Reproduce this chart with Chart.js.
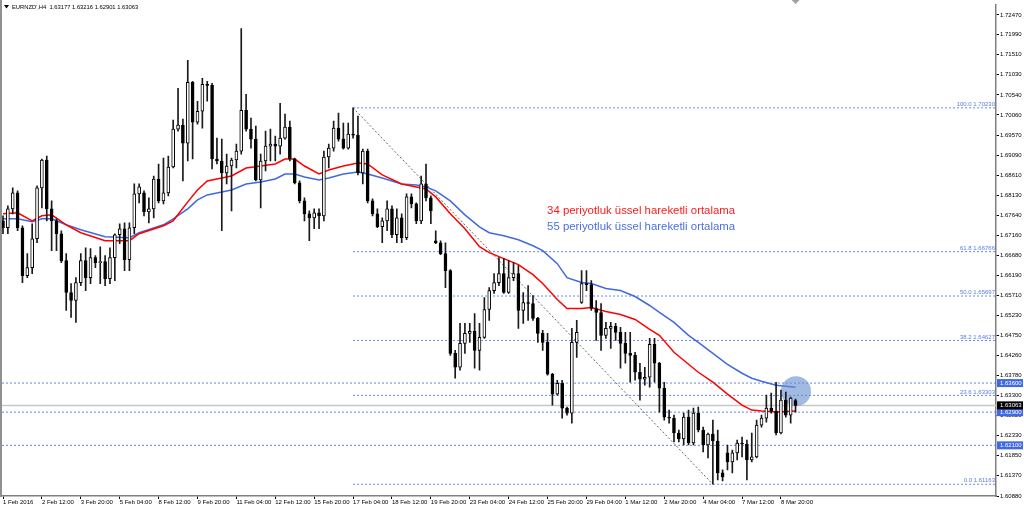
<!DOCTYPE html>
<html><head><meta charset="utf-8">
<script src="https://cdn.jsdelivr.net/npm/chart.js@4.4.0/dist/chart.umd.min.js"></script>
<style>html,body{margin:0;padding:0;background:#fff;overflow:hidden}</style>
</head><body>
<canvas id="c" width="1024" height="510"></canvas>
<script>
// ---- data ----
const symbolTitle = "EURNZD',H4  1.63177 1.63216 1.62901 1.63063";
const dateLabels = ['1 Feb 2016','2 Feb 12:00','3 Feb 20:00','5 Feb 04:00','8 Feb 12:00','9 Feb 20:00','11 Feb 04:00','12 Feb 12:00','15 Feb 20:00','17 Feb 04:00','18 Feb 12:00','19 Feb 20:00','23 Feb 04:00','24 Feb 12:00','25 Feb 20:00','29 Feb 04:00','1 Mar 12:00','2 Mar 20:00','4 Mar 04:00','7 Mar 12:00','8 Mar 20:00'];
const yTickLabels = ['1.72470','1.71990','1.71510','1.71030','1.70540','1.70060','1.69570','1.69090','1.68610','1.68130','1.67640','1.67160','1.66680','1.66190','1.65710','1.65230','1.64750','1.64260','1.63780','1.63300','1.62820','1.62330','1.61850','1.61370','1.60880'];

const openP = [1.67509,1.67341,1.67797,1.68181,1.67341,1.66189,1.66381,1.67077,1.68301,1.68973,
1.67797,1.67509,1.67197,1.66549,1.65781,1.65589,1.66021,1.66549,1.66141,1.66621,
1.66501,1.66525,1.66117,1.66621,1.67173,1.67317,1.66573,1.67341,1.68157,1.68181,
1.67725,1.67797,1.68517,1.67989,1.68181,1.68805,1.69717,1.69813,1.69381,1.70845,
1.69885,1.70149,1.70797,1.70773,1.68997,1.68949,1.68661,1.68829,1.68973,1.69189,
1.70173,1.69717,1.69477,1.68493,1.68949,1.69309,1.69357,1.69309,1.69501,1.69765,
1.68997,1.68421,1.67989,1.67677,1.67581,1.67701,1.67629,1.69045,1.69261,1.69741,
1.69477,1.69261,1.69597,1.69573,1.68661,1.69189,1.67989,1.67677,1.67365,1.67509,
1.67797,1.67173,1.67581,1.67101,1.68085,1.67917,1.67509,1.68397,1.68061,1.67029,
1.66981,1.66717,1.66309,1.64317,1.63981,1.64557,1.64797,1.64845,1.64389,1.64701,
1.65373,1.65829,1.66021,1.66237,1.65781,1.66141,1.66237,1.65349,1.65541,1.65517,
1.65157,1.64797,1.64581,1.63813,1.63333,1.63597,1.62997,1.62877,1.64581,1.65541,
1.65997,1.65973,1.65397,1.65301,1.64749,1.64917,1.64965,1.64821,1.64557,1.64317,
1.64269,1.63861,1.63693,1.63741,1.64533,1.64077,1.63477,1.62781,1.62757,1.62397,
1.62253,1.62781,1.62157,1.62877,1.62469,1.62109,1.62373,1.62205,1.61437,1.61917,
1.61701,1.61917,1.62157,1.62133,1.61749,1.61821,1.62589,1.62757,1.62997,1.62925,
1.62397,1.63189,1.62829,1.63177];
const highP = [1.67629,1.67869,1.68301,1.68229,1.67389,1.66717,1.67437,1.68349,1.68997,1.69069,
1.67989,1.67557,1.67269,1.66717,1.65997,1.66141,1.66717,1.66861,1.66837,1.66669,
1.66885,1.66669,1.66861,1.67197,1.67437,1.67461,1.67461,1.68397,1.68397,1.68229,
1.68061,1.68589,1.68877,1.69021,1.69069,1.69933,1.70701,1.69957,1.71373,1.70869,
1.70389,1.70941,1.70869,1.70821,1.69501,1.69477,1.69117,1.69021,1.69357,1.72141,
1.70557,1.69981,1.69789,1.69117,1.69669,1.69717,1.69549,1.70341,1.70077,1.69909,
1.69021,1.68469,1.68061,1.67749,1.67797,1.67797,1.69189,1.69357,1.69909,1.70101,
1.69861,1.69861,1.70230,1.70029,1.69237,1.69237,1.68037,1.67797,1.67581,1.67989,
1.67869,1.67797,1.67677,1.68157,1.68157,1.67941,1.68589,1.68877,1.68109,1.67269,
1.67029,1.66981,1.66333,1.64389,1.65037,1.65037,1.65037,1.65277,1.65037,1.65661,
1.65901,1.66237,1.66621,1.66597,1.66549,1.66501,1.66429,1.65781,1.65949,1.65709,
1.65181,1.64869,1.64797,1.63837,1.63669,1.63669,1.63021,1.64917,1.65109,1.66309,
1.66309,1.66069,1.65589,1.65517,1.65061,1.65061,1.65037,1.64941,1.64821,1.64821,
1.64341,1.64077,1.63981,1.64677,1.64677,1.64101,1.63621,1.62949,1.62829,1.62469,
1.62877,1.62949,1.62997,1.63021,1.62541,1.62397,1.62709,1.62469,1.61509,1.62109,
1.61989,1.62229,1.62301,1.62229,1.62397,1.62709,1.62829,1.63309,1.63357,1.63621,
1.63429,1.63381,1.63261,1.63216];
const lowP = [1.67197,1.67197,1.67677,1.67269,1.66021,1.66141,1.66237,1.66981,1.67821,1.67509,
1.66789,1.66789,1.66501,1.65349,1.65181,1.65061,1.65949,1.65829,1.65997,1.66381,
1.65997,1.65949,1.65997,1.66069,1.66957,1.66309,1.66309,1.67197,1.67941,1.67629,
1.67461,1.67581,1.67941,1.67917,1.68109,1.68781,1.69669,1.68469,1.68949,1.68997,
1.69837,1.69741,1.70389,1.68757,1.68877,1.67269,1.68397,1.67749,1.68781,1.69117,
1.69669,1.69261,1.68469,1.67821,1.68709,1.68949,1.68949,1.69117,1.69477,1.68949,
1.68397,1.67941,1.67509,1.67029,1.67317,1.67317,1.67509,1.68781,1.69189,1.69429,
1.69237,1.69237,1.69501,1.68613,1.68397,1.67941,1.67629,1.67341,1.66981,1.67269,
1.67101,1.66981,1.66981,1.67053,1.67821,1.67437,1.67437,1.67989,1.67437,1.66957,
1.66693,1.65901,1.64269,1.63717,1.63909,1.64317,1.64581,1.63957,1.63909,1.64677,
1.65109,1.65757,1.65949,1.65757,1.65757,1.66069,1.64917,1.65037,1.65109,1.65109,
1.64581,1.64389,1.63789,1.63069,1.63309,1.62757,1.62829,1.62637,1.64221,1.65517,
1.65829,1.65349,1.64629,1.64389,1.64677,1.64437,1.64629,1.63957,1.64077,1.63621,
1.63669,1.63189,1.63549,1.63501,1.63621,1.62901,1.62709,1.62637,1.62181,1.62181,
1.62109,1.62109,1.62109,1.62421,1.61941,1.61797,1.61163,1.61269,1.61245,1.61509,
1.61437,1.61749,1.61821,1.61269,1.61701,1.61797,1.62541,1.62661,1.62877,1.62349,
1.62373,1.62781,1.62637,1.62901];
const closeP = [1.67341,1.67797,1.68181,1.67341,1.66189,1.66381,1.67077,1.68301,1.68973,1.67797,
1.67509,1.67197,1.66549,1.65781,1.65589,1.66021,1.66549,1.66141,1.66621,1.66501,
1.66525,1.66117,1.66621,1.67173,1.67317,1.66573,1.67341,1.68157,1.68325,1.67725,
1.67797,1.68517,1.67989,1.68181,1.68805,1.69717,1.69813,1.69381,1.70845,1.69885,
1.70149,1.70797,1.70773,1.68997,1.68949,1.68661,1.68829,1.68973,1.69189,1.70173,
1.69717,1.69477,1.68493,1.68949,1.69309,1.69357,1.69309,1.69501,1.69765,1.68997,
1.68421,1.67989,1.67677,1.67581,1.67701,1.67629,1.69045,1.69261,1.69741,1.69477,
1.69261,1.69597,1.69573,1.68661,1.69189,1.67989,1.67677,1.67365,1.67509,1.67797,
1.67173,1.67581,1.67101,1.68085,1.67917,1.67509,1.68397,1.68061,1.67749,1.66981,
1.66717,1.66309,1.64317,1.63981,1.64557,1.64797,1.64845,1.64389,1.64701,1.65373,
1.65829,1.66021,1.66237,1.65781,1.66141,1.66237,1.65349,1.65541,1.65517,1.65157,
1.64797,1.64581,1.63813,1.63333,1.63597,1.62997,1.62877,1.64581,1.64821,1.65997,
1.65973,1.65397,1.65301,1.64749,1.64917,1.64965,1.64821,1.64557,1.64317,1.64269,
1.63861,1.63693,1.63741,1.64533,1.64077,1.63477,1.62781,1.62757,1.62397,1.62253,
1.62781,1.62157,1.62877,1.62469,1.62109,1.62373,1.62205,1.61437,1.61341,1.61701,
1.61917,1.62157,1.62133,1.61749,1.61821,1.62589,1.62757,1.62997,1.62925,1.62397,
1.63189,1.62829,1.63237,1.63063];

const emaBars = [0,3,6,8,10,13,16,21,26,28,33,35,38,40,42,45,47,50,53,56,58,60,62,65,67,70,73,75,78,82,85,87,89,92,95,98,100,103,106,109,111,114,116,119,121,124,127,130,133,135,138,141,143,146,149,152,154,156,159,163];
const ema34 = [1.67677,1.67701,1.67509,1.67629,1.67653,1.67413,1.67221,1.67029,1.67029,1.67197,1.67389,1.67509,1.67965,1.68253,1.68469,1.68541,1.68589,1.68781,1.68829,1.68877,1.68997,1.68997,1.68829,1.68637,1.68733,1.68829,1.68901,1.68877,1.68613,1.68397,1.68325,1.68277,1.68085,1.67677,1.67317,1.66885,1.66741,1.66597,1.66453,1.66213,1.65997,1.65613,1.65397,1.65397,1.65421,1.65325,1.65253,1.65133,1.64893,1.64749,1.64341,1.64053,1.63861,1.63621,1.63333,1.63069,1.62949,1.62925,1.62901,1.62925];
const ema55 = [1.67557,1.67557,1.67485,1.67557,1.67557,1.67413,1.67293,1.67125,1.67101,1.67221,1.67413,1.67557,1.67797,1.68013,1.68133,1.68205,1.68253,1.68397,1.68445,1.68517,1.68637,1.68637,1.68565,1.68493,1.68541,1.68637,1.68685,1.68637,1.68541,1.68397,1.68373,1.68325,1.68229,1.67989,1.67653,1.67365,1.67221,1.67149,1.67053,1.66909,1.66789,1.66477,1.66141,1.66021,1.65997,1.65877,1.65829,1.65685,1.65469,1.65301,1.65061,1.64749,1.64581,1.64317,1.64053,1.63837,1.63717,1.63645,1.63549,1.63501];

const fibNames = ['100.0','61.8','50.0','38.2','23.6','0.0'];
const fibVals = [1.70230,1.66766,1.65697,1.64627,1.63303,1.61163];
const fibStartBar = 72;
const levelVals = [1.63600,1.62900,1.62100];
const bidPrice = 1.63063;
const trendBars = [72,146];
const trendVals = [1.70230,1.61163];
const circleBar = 163.1, circleVal = 1.63405;
const annotText = ['34 periyotluk üssel hareketli ortalama','55 periyotluk üssel hareketli ortalama'];
const annotBar = 111.9;
const annotVals = [1.67749,1.67372];

// ---- chart ----
const X_MIN = -0.206, X_MAX = 204.23, Y_MIN = 1.60880, Y_MAX = 1.72717;
const FONT = '"Liberation Sans", Arial, sans-serif';
const idx = openP.map((_, i) => i);
const bull = idx.map(i => closeP[i] >= openP[i]);
const hline = (vals, x0, color, dash, w, order) => vals.map(v => ({
  type: 'line', data: [{x: x0, y: v}, {x: X_MAX, y: v}], borderColor: color,
  borderWidth: w, borderDash: dash, pointRadius: 0, order: order
}));

const datasets = [
  {type: 'bar', data: idx.map(i => ({x: i, y: [openP[i], closeP[i]]})),
   backgroundColor: idx.map(i => bull[i] ? '#ffffff' : '#000000'), borderColor: '#000',
   borderWidth: 1, borderSkipped: false, barThickness: 3, minBarLength: 1, grouped: false, order: 0},
  {type: 'bar', data: idx.map(i => ({x: i, y: [lowP[i], highP[i]]})),
   backgroundColor: '#1a1a1a', borderWidth: 0, barThickness: 1, grouped: false, order: 1},
  {type: 'scatter', data: [{x: circleBar, y: circleVal}], pointRadius: 15,
   backgroundColor: 'rgba(100,140,205,0.6)', borderWidth: 0, order: 1.5},
  {type: 'line', data: emaBars.map((b, k) => ({x: b, y: ema34[k]})), borderColor: '#ff0000',
   borderWidth: 1.5, pointRadius: 0, tension: 0, order: 2},
  {type: 'line', data: emaBars.map((b, k) => ({x: b, y: ema55[k]})), borderColor: '#4169e1',
   borderWidth: 1.5, pointRadius: 0, tension: 0, order: 2},
  {type: 'line', data: trendBars.map((b, k) => ({x: b, y: trendVals[k]})), borderColor: '#666',
   borderWidth: 1, borderDash: [2, 2], pointRadius: 0, order: 3},
  ...hline(fibVals, fibStartBar, 'rgba(65,105,225,0.8)', [2, 2], 1, 6),
  ...hline(levelVals, X_MIN, 'rgba(65,105,225,0.8)', [2, 2], 1, 6),
  ...hline([bidPrice], X_MIN, '#c8c8c8', [], 1.5, 7)
];

const overlay = {
  id: 'overlay',
  afterDatasetsDraw(chart) {
    const {ctx, scales: {x, y}} = chart;
    ctx.save();
    ctx.font = '6px ' + FONT; ctx.fillStyle = '#5a7be6';
    ctx.textAlign = 'right'; ctx.textBaseline = 'bottom';
    fibVals.forEach((v, k) => ctx.fillText(fibNames[k] + ' ' + v.toFixed(5), x.right - 1, y.getPixelForValue(v) - 0.5));
    ctx.font = '11.4px ' + FONT; ctx.textAlign = 'left'; ctx.textBaseline = 'middle';
    ctx.fillStyle = '#ff1a1a';
    ctx.fillText(annotText[0], x.getPixelForValue(annotBar), y.getPixelForValue(annotVals[0]));
    ctx.fillStyle = '#4a6fe3';
    ctx.fillText(annotText[1], x.getPixelForValue(annotBar), y.getPixelForValue(annotVals[1]));
    ctx.restore();
  },
  afterDraw(chart) {
    const {ctx, scales: {x, y}} = chart;
    ctx.save();
    ctx.fillStyle = '#909090'; ctx.fillRect(0, 0, 2, y.bottom + 1);
    ctx.fillStyle = '#000';
    ctx.beginPath(); ctx.moveTo(4, 5); ctx.lineTo(9, 5); ctx.lineTo(6.5, 8.5); ctx.closePath(); ctx.fill();
    ctx.font = '5.8px ' + FONT; ctx.textAlign = 'left'; ctx.textBaseline = 'middle';
    ctx.fillText(symbolTitle, 12, 7);
    const mx = x.getPixelForValue(openP.length - 1);
    ctx.fillStyle = '#a0a0a0';
    ctx.beginPath(); ctx.moveTo(mx - 4, 0); ctx.lineTo(mx + 4, 0); ctx.lineTo(mx, 4); ctx.closePath(); ctx.fill();
    ctx.font = '6px ' + FONT; ctx.textBaseline = 'middle';
    const box = (v, bg) => {
      const py = y.getPixelForValue(v);
      ctx.fillStyle = bg; ctx.fillRect(x.right + 1, py - 4, 26, 8);
      ctx.fillStyle = '#fff'; ctx.fillText(v.toFixed(5), x.right + 4, py);
    };
    levelVals.forEach(v => box(v, '#4169e1'));
    box(bidPrice, '#000');
    ctx.restore();
  }
};

Chart.defaults.font.family = FONT;
Chart.defaults.color = '#000';
new Chart(document.getElementById('c'), {
  type: 'bar',
  data: {datasets},
  options: {
    responsive: false, animation: false, devicePixelRatio: 1,
    layout: {autoPadding: false, padding: {left: 2, top: 3, right: 0, bottom: 0}},
    plugins: {legend: {display: false}, tooltip: {enabled: false}},
    scales: {
      x: {
        type: 'linear', min: X_MIN, max: X_MAX, offset: false,
        grid: {drawOnChartArea: false, drawTicks: true, tickLength: 3, color: '#000', offset: false},
        border: {display: true, color: '#808080', width: 1.5},
        ticks: {font: {size: 6}, color: '#000', align: 'start', padding: 0, maxRotation: 0, autoSkip: false,
          callback: v => dateLabels[Math.round(v / 8)]},
        afterBuildTicks: s => { s.ticks = dateLabels.map((_, k) => ({value: k * 8})); },
        afterFit: s => { s.height = 14; }
      },
      y: {
        type: 'linear', position: 'right', min: Y_MIN, max: Y_MAX,
        grid: {drawOnChartArea: false, drawTicks: true, tickLength: 3, color: '#000'},
        border: {display: true, color: '#808080', width: 1.5},
        ticks: {font: {size: 6}, color: '#000', padding: 1, callback: v => v.toFixed(5)},
        afterBuildTicks: s => { s.ticks = yTickLabels.map(t => ({value: parseFloat(t)})); },
        afterFit: s => { s.width = 28; }
      }
    }
  },
  plugins: [overlay]
});
</script>
</body></html>
